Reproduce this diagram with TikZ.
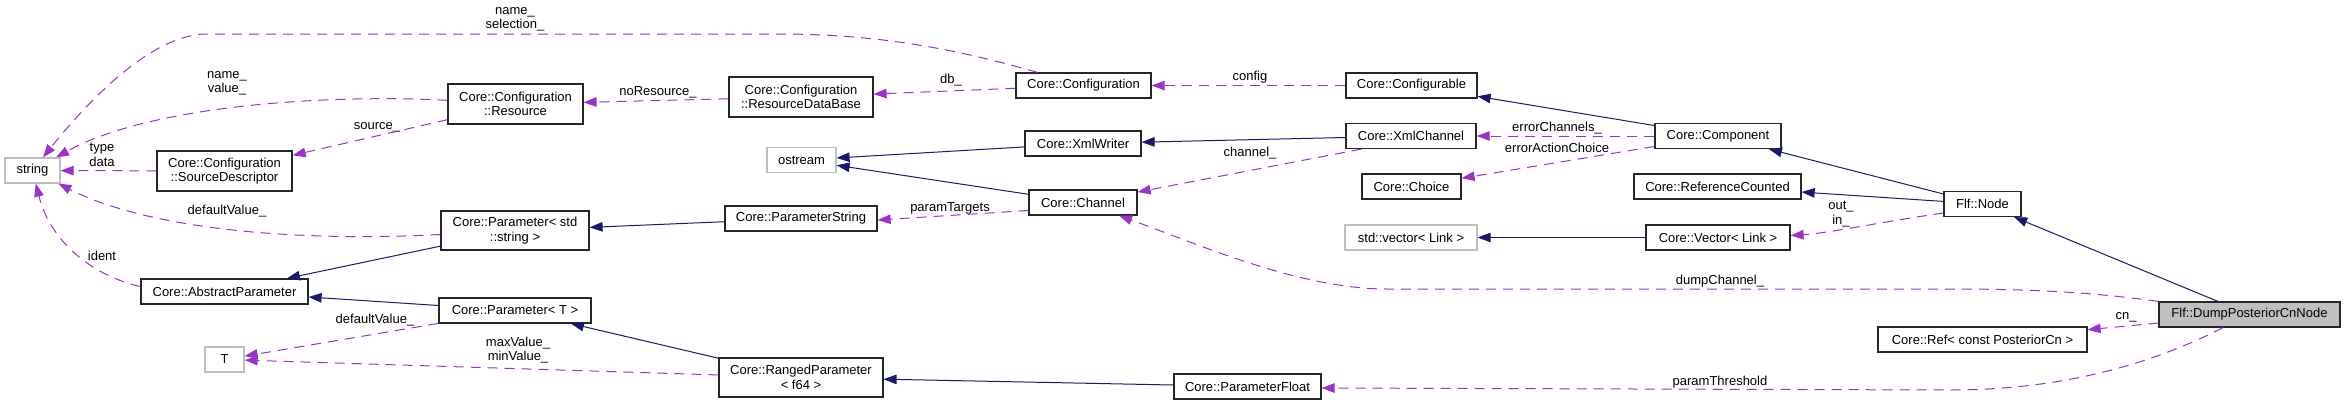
\documentclass[tikz,border=0pt]{standalone}
\usepackage{fontspec}
\setmainfont{Liberation Sans}
\usetikzlibrary{arrows.meta,calc}
\definecolor{inh}{HTML}{191970}
\definecolor{usec}{HTML}{9A32CD}
\definecolor{ext}{HTML}{BFBFBF}
\definecolor{bord}{HTML}{262626}
\begin{document}
\begin{tikzpicture}[x=1pt,y=-1pt,
  cls/.style={draw=bord, line width=1.2pt, font=\fontsize{13}{14.5}\selectfont, inner sep=0pt, align=center, minimum height=25pt},
  extcls/.style={cls, draw=ext},
  lbl/.style={font=\fontsize{13}{14.5}\selectfont, inner sep=0pt, align=center},
  inhedge/.style={draw=inh, line width=1pt, -{Triangle[length=13pt,width=9.5pt]}},
  useedge/.style={draw=usec, line width=1pt, dash pattern=on 10pt off 7pt, -{Triangle[length=13pt,width=9.5pt]}}
]
\useasboundingbox[fill=white] (0,0) rectangle (2345,405);

% nodes
\node[extcls, minimum width=55pt] (str) at (32.5,170.5) {string};
\node[cls, minimum width=135pt, minimum height=40pt] (srcdesc) at (224.5,171) {Core::Configuration\\::SourceDescriptor};
\node[cls, minimum width=167pt] (absparam) at (224.5,291.5) {Core::AbstractParameter};
\node[extcls, minimum width=39pt] (T) at (224.5,359.5) {T};
\node[cls, minimum width=135pt, minimum height=40pt] (resource) at (515.5,104) {Core::Configuration\\::Resource};
\node[cls, minimum width=148pt, minimum height=39pt] (paramstd) at (515,230.5) {Core::Parameter< std\\::string >};
\node[cls, minimum width=152pt] (paramT) at (515,310.5) {Core::Parameter< T >};
\node[cls, minimum width=144pt, minimum height=40pt] (rdb) at (801,97) {Core::Configuration\\::ResourceDataBase};
\node[extcls, minimum width=69pt] (ostream) at (801.5,160) {ostream};
\node[cls, minimum width=152pt] (paramstring) at (801,218.5) {Core::ParameterString};
\node[cls, minimum width=164pt, minimum height=39pt] (ranged) at (801,377.5) {Core::RangedParameter\\< f64 >};
\node[cls, minimum width=135pt] (config) at (1083.5,85.5) {Core::Configuration};
\node[cls, minimum width=116pt] (xmlwriter) at (1083,143.5) {Core::XmlWriter};
\node[cls, minimum width=108pt] (channel) at (1083,202.5) {Core::Channel};
\node[cls, minimum width=131pt] (configurable) at (1411.5,85.5) {Core::Configurable};
\node[cls, minimum width=130pt] (xmlchannel) at (1411,136) {Core::XmlChannel};
\node[cls, minimum width=99pt] (choice) at (1411.5,186.5) {Core::Choice};
\node[extcls, minimum width=132pt] (stdvector) at (1411,237.5) {std::vector< Link >};
\node[cls, minimum width=147pt] (paramfloat) at (1247.5,386.5) {Core::ParameterFloat};
\node[cls, minimum width=126pt] (component) at (1718,136) {Core::Component};
\node[cls, minimum width=167pt] (refcounted) at (1717.5,186.5) {Core::ReferenceCounted};
\node[cls, minimum width=144pt] (vector) at (1718,237.5) {Core::Vector< Link >};
\node[cls, minimum width=77pt] (fnode) at (1982.5,204) {Flf::Node};
\node[cls, minimum width=209pt] (ref) at (1982.5,339.5) {Core::Ref< const PosteriorCn >};
\node[cls, minimum width=181pt, fill=ext] (dump) at (2249.5,314.5) {Flf::DumpPosteriorCnNode};

% labels
\node[lbl] (l1) at (515,19.5) {name\_\\selection\_};
\node[lbl] (l2) at (227,83.5) {name\_\\value\_};
\node[lbl] (l3) at (658,92) {noResource\_};
\node[lbl] (l4) at (951,80) {db\_};
\node[lbl] (l5) at (1250,77) {config};
\node[lbl] (l6) at (377,127) {source\_};
\node[lbl] (l7) at (102,155) {type\\data};
\node[lbl] (l8) at (227,211) {defaultValue\_};
\node[lbl] (l9) at (102,256) {ident};
\node[lbl] (l10) at (375,320) {defaultValue\_};
\node[lbl] (l11) at (518,350) {maxValue\_\\minValue\_};
\node[lbl] (l12) at (950,208) {paramTargets};
\node[lbl] (l13) at (1250,153) {channel\_};
\node[lbl] (l14) at (1557,128) {errorChannels\_};
\node[lbl] (l15) at (1557,148) {errorActionChoice};
\node[lbl] (l16) at (1841,214) {out\_\\in\_};
\node[lbl] (l17) at (1720,281) {dumpChannel\_};
\node[lbl] (l18) at (1720,382) {paramThreshold};
\node[lbl] (l19) at (2126,317) {cn\_};

% inheritance edges
\draw[inhedge] (component) -- (configurable);
\draw[inhedge] (xmlchannel) -- (xmlwriter);
\draw[inhedge] (xmlwriter) -- (ostream);
\draw[inhedge] (channel) -- (ostream);
\draw[inhedge] (fnode) -- (component);
\draw[inhedge] (fnode) -- (refcounted);
\draw[inhedge] (vector) -- (stdvector);
\draw[inhedge] (dump) -- (fnode);
\draw[inhedge] (paramstd) -- (absparam);
\draw[inhedge] (paramT) -- (absparam);
\draw[inhedge] (paramstring) -- (paramstd);
\draw[inhedge] (ranged) -- (paramT);
\draw[inhedge] (paramfloat) -- (ranged);

% usage edges
\draw[useedge] ($(config.north west)+(22,0)$) .. controls (960,50) and (880,34) .. (780,34) -- (207,34) .. controls (150,34) and (85,105) .. (str);
\draw[useedge] (resource) .. controls (330,94) and (150,105) .. (str);
\draw[useedge] (rdb) -- (resource);
\draw[useedge] (config) -- (rdb);
\draw[useedge] (configurable) -- (config);
\draw[useedge] (resource) -- (srcdesc);
\draw[useedge] (srcdesc) -- (str);
\draw[useedge] (paramstd) .. controls (300,242) and (150,230) .. (str);
\draw[useedge] ($(absparam.west)+(0,-5)$) .. controls (90,275) and (50,240) .. (str);
\draw[useedge] (paramT) -- (T);
\draw[useedge] (ranged) -- (T);
\draw[useedge] (component) -- (xmlchannel);
\draw[useedge] (component) -- (choice);
\draw[useedge] ($(xmlchannel.south west)+(16,0)$) -- (channel);
\draw[useedge] ($(channel.west)+(0,8)$) -- ($(paramstring.east)+(0,1.5)$);
\draw[useedge] (dump.north west) .. controls (2090,292) and (2030,289) .. (1950,289) -- (1387,289) .. controls (1300,289) and (1200,245) .. (channel);
\draw[useedge] ($(fnode.west)+(0,9)$) .. controls (1880,222) and (1830,233) .. ($(vector.east)+(0,-2)$);
\draw[useedge] (dump) -- (ref);
\draw[useedge] ($(dump.south)+(-26.5,0)$) .. controls (2150,365) and (2060,390) .. (1950,390) -- ($(paramfloat.east)+(0,1.5)$);
\end{tikzpicture}
\end{document}
